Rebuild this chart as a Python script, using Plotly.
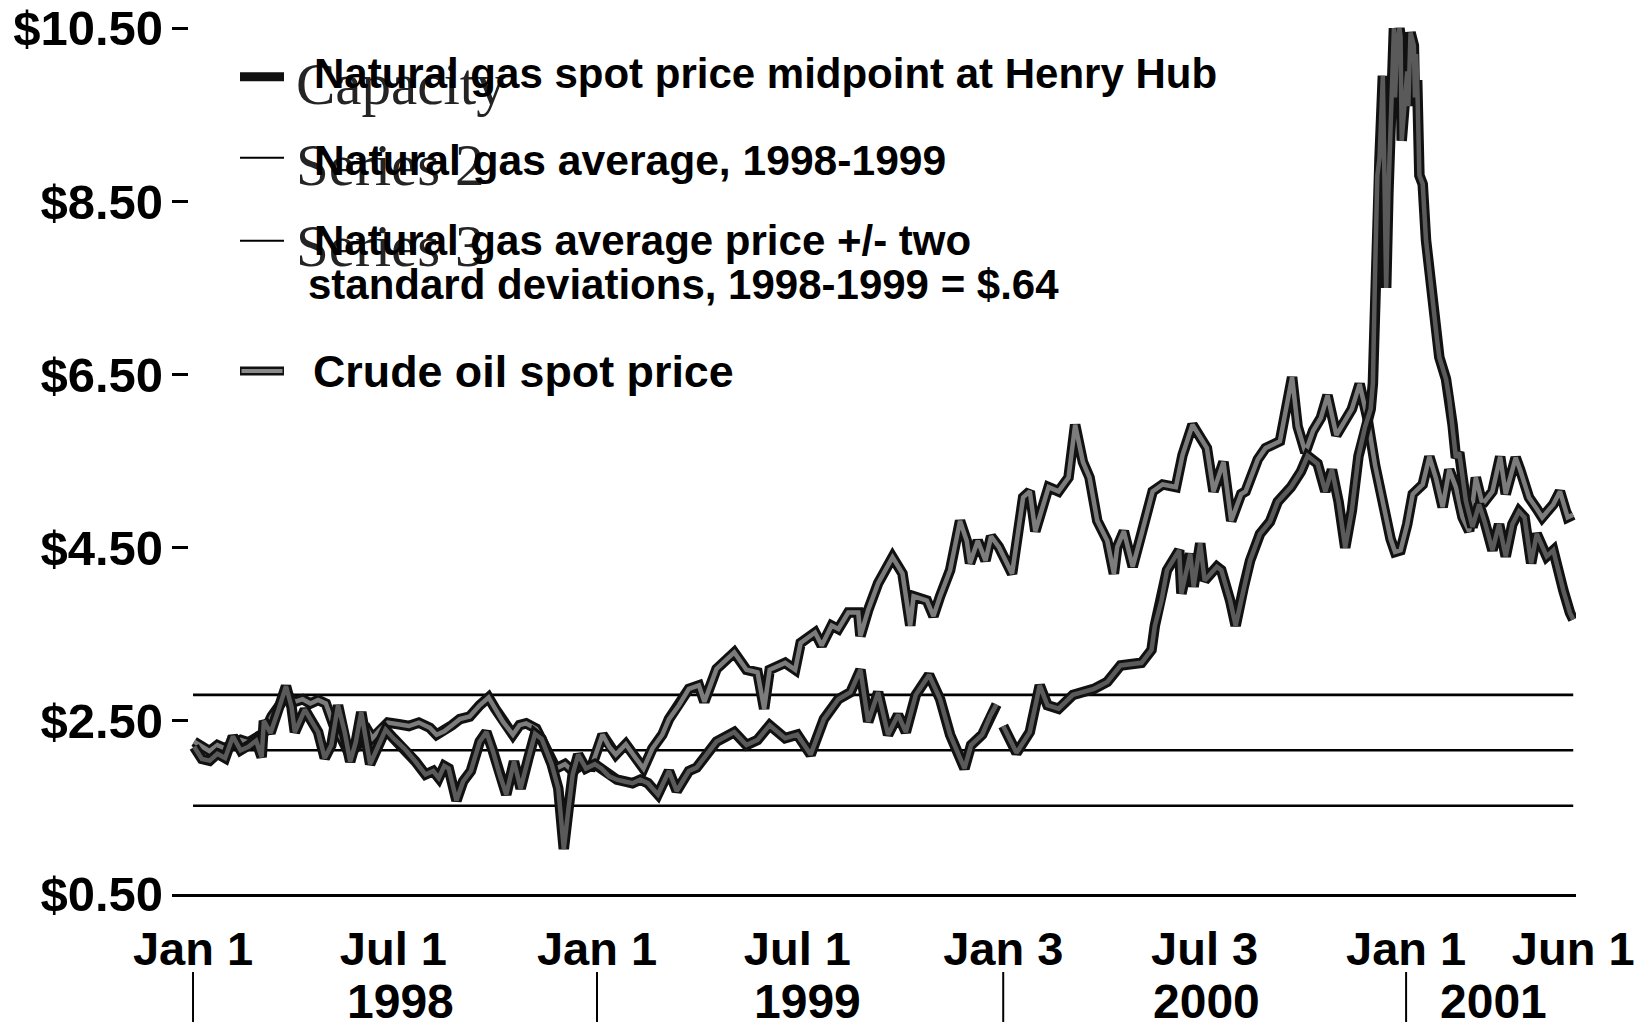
import plotly.graph_objects as go

# ---------------- data ----------------
GAS_DATES = [
    "1998-01-02", "1998-01-09", "1998-01-16", "1998-01-23", "1998-01-30", "1998-02-06", "1998-02-13",
    "1998-02-20", "1998-02-27", "1998-03-04", "1998-03-06", "1998-03-12", "1998-03-19", "1998-03-26",
    "1998-03-31", "1998-04-03", "1998-04-12", "1998-04-18", "1998-04-24", "1998-04-30", "1998-05-06",
    "1998-05-12", "1998-05-18", "1998-05-23", "1998-05-28", "1998-06-02", "1998-06-10", "1998-06-17",
    "1998-06-24", "1998-07-01", "1998-07-11", "1998-07-21", "1998-07-30", "1998-08-06", "1998-08-11",
    "1998-08-16", "1998-08-20", "1998-08-27", "1998-09-02", "1998-09-09", "1998-09-17", "1998-09-23",
    "1998-09-29", "1998-10-05", "1998-10-11", "1998-10-18", "1998-10-24", "1998-10-31", "1998-11-06",
    "1998-11-12", "1998-11-21", "1998-11-27", "1998-12-02", "1998-12-06", "1998-12-10", "1998-12-15",
    "1998-12-22", "1998-12-30", "1999-01-05", "1999-01-12", "1999-01-19", "1999-01-26", "1999-02-02",
    "1999-02-09", "1999-02-16", "1999-02-25", "1999-03-07", "1999-03-14", "1999-03-25", "1999-04-01",
    "1999-04-08", "1999-04-19", "1999-05-05", "1999-05-16", "1999-05-26", "1999-06-06", "1999-06-20",
    "1999-07-01", "1999-07-13", "1999-07-25", "1999-08-07", "1999-08-18", "1999-08-27", "1999-09-03",
    "1999-09-12", "1999-09-21", "1999-09-30", "1999-10-07", "1999-10-16", "1999-10-28", "1999-11-07",
    "1999-11-16", "1999-11-29", "1999-12-05", "1999-12-15", "1999-12-22", "1999-12-28", "1999-12-30",
    "2000-01-03", "2000-01-15", "2000-01-27", "2000-02-05", "2000-02-12", "2000-02-22", "2000-03-06",
    "2000-03-25", "2000-04-06", "2000-04-18", "2000-05-07", "2000-05-16", "2000-05-19", "2000-05-25",
    "2000-05-30", "2000-06-10", "2000-06-12", "2000-06-20", "2000-06-23", "2000-06-29", "2000-07-03",
    "2000-07-14", "2000-07-18", "2000-07-26", "2000-07-31", "2000-08-07", "2000-08-13", "2000-08-22",
    "2000-08-31", "2000-09-07", "2000-09-19", "2000-09-28", "2000-10-04", "2000-10-13", "2000-10-20",
    "2000-10-26", "2000-11-01", "2000-11-07", "2000-11-13", "2000-11-19", "2000-11-25", "2000-11-30",
    "2000-12-02", "2000-12-04", "2000-12-06", "2000-12-08", "2000-12-11", "2000-12-13", "2000-12-14",
    "2000-12-16", "2000-12-19", "2000-12-20", "2000-12-21", "2000-12-22", "2000-12-24", "2000-12-26",
    "2000-12-27", "2000-12-28", "2001-01-02", "2001-01-03", "2001-01-04", "2001-01-05", "2001-01-08",
    "2001-01-09", "2001-01-10", "2001-01-11", "2001-01-13", "2001-01-16", "2001-01-19",
    "2001-01-25", "2001-01-29", "2001-01-31", "2001-02-06", "2001-02-09", "2001-02-12", "2001-02-15",
    "2001-02-18", "2001-02-21", "2001-02-24", "2001-03-02", "2001-03-08", "2001-03-13", "2001-03-20",
    "2001-03-26", "2001-04-01", "2001-04-07", "2001-04-13", "2001-04-18", "2001-04-24", "2001-04-29",
    "2001-05-08", "2001-05-14", "2001-05-18", "2001-05-23", "2001-05-29", "2001-06-01",
]
GAS_PRICE = [
    2.20, 2.06, 2.04, 2.12, 2.07, 2.32, 2.16,
    2.20, 2.27, 2.08, 2.50, 2.36, 2.62, 2.90,
    2.66, 2.37, 2.63, 2.50, 2.37, 2.07, 2.22,
    2.68, 2.37, 2.03, 2.25, 2.60, 2.00, 2.20,
    2.40, 2.30, 2.18, 2.03, 1.88, 1.92, 1.84,
    1.98, 1.95, 1.58, 1.80, 1.92, 2.26, 2.37,
    2.15, 1.88, 1.65, 2.03, 1.72, 2.07, 2.35,
    2.29, 2.00, 1.72, 1.02, 1.46, 1.88, 2.11,
    1.95, 2.00, 1.95, 1.86, 1.82, 1.80, 1.78,
    1.82, 1.78, 1.65, 1.92, 1.69, 1.92, 1.96,
    2.07, 2.26, 2.37, 2.22, 2.28, 2.45, 2.30,
    2.34, 2.11, 2.52, 2.75, 2.83, 3.09, 2.49,
    2.83, 2.34, 2.57, 2.37, 2.80, 3.03, 2.75,
    2.34, 1.95, 2.22, 2.34, 2.55, 2.69, None,
    2.44, 2.13, 2.37, 2.91, 2.68, 2.64, 2.80,
    2.87, 2.95, 3.14, 3.17, 3.32, 3.60, 3.89,
    4.24, 4.47, 3.97, 4.43, 4.05, 4.55, 4.12,
    4.28, 4.24, 3.89, 3.60, 4.03, 4.35, 4.66,
    4.80, 5.03, 5.20, 5.38, 5.56, 5.47, 5.15,
    5.40, 5.03, 4.50, 4.93, 5.56, 5.90, 6.10,
    6.40, 7.70, 8.80, 9.00, 9.95, 8.30, 7.50,
    8.60, 9.80, 10.05, 10.50, 9.70, 10.35, 10.50,
    10.40, 9.20, 10.00, 9.60, 10.30, 10.45, 10.30,
    9.70, 10.20, 9.90, 8.80, 8.70, 8.05,
    7.30, 6.90, 6.70, 6.45, 6.22, 5.92, 5.54,
    5.60, 5.31, 5.04, 4.74, 5.00, 4.80, 4.47,
    4.77, 4.40, 4.77, 4.92, 4.85, 4.32, 4.66,
    4.40, 4.47, 4.24, 4.01, 3.75, 3.67,
]

OIL_DATES = [
    "1998-01-02", "1998-01-09", "1998-01-16", "1998-01-23", "1998-01-30", "1998-02-06", "1998-02-13",
    "1998-02-20", "1998-02-27", "1998-03-06", "1998-03-13", "1998-03-20", "1998-03-27", "1998-04-03",
    "1998-04-10", "1998-04-17", "1998-04-24", "1998-05-01", "1998-05-08", "1998-05-15", "1998-05-22",
    "1998-05-29", "1998-06-05", "1998-06-12", "1998-06-19", "1998-06-26", "1998-07-06", "1998-07-15",
    "1998-07-24", "1998-08-03", "1998-08-09", "1998-08-16", "1998-08-23", "1998-08-30", "1998-09-08",
    "1998-09-17", "1998-09-25", "1998-10-01", "1998-10-08", "1998-10-17", "1998-10-23", "1998-10-29",
    "1998-11-07", "1998-11-16", "1998-11-25", "1998-12-03", "1998-12-10", "1998-12-17", "1998-12-27",
    "1999-01-06", "1999-01-12", "1999-01-18", "1999-01-27", "1999-02-05", "1999-02-12", "1999-02-20",
    "1999-03-01", "1999-03-07", "1999-03-16", "1999-03-25", "1999-04-03", "1999-04-08", "1999-04-19",
    "1999-05-05", "1999-05-16", "1999-05-26", "1999-06-01", "1999-06-06", "1999-06-20", "1999-06-29",
    "1999-07-04", "1999-07-17", "1999-07-23", "1999-08-01", "1999-08-07", "1999-08-16", "1999-08-25",
    "1999-08-27", "1999-09-03", "1999-09-12", "1999-09-25", "1999-10-04", "1999-10-11", "1999-10-14",
    "1999-10-26", "1999-11-01", "1999-11-07", "1999-11-16", "1999-11-25", "1999-12-01", "1999-12-04",
    "1999-12-11", "1999-12-18", "1999-12-23", "1999-12-30", "2000-01-11", "2000-01-21", "2000-01-27",
    "2000-02-01", "2000-02-13", "2000-02-22", "2000-03-02", "2000-03-08", "2000-03-15", "2000-03-21",
    "2000-03-28", "2000-04-06", "2000-04-12", "2000-04-15", "2000-04-21", "2000-04-29", "2000-05-07",
    "2000-05-17", "2000-05-26", "2000-06-07", "2000-06-13", "2000-06-22", "2000-07-05", "2000-07-11",
    "2000-07-20", "2000-07-27", "2000-08-05", "2000-08-09", "2000-08-20", "2000-08-27", "2000-09-09",
    "2000-09-15", "2000-09-20", "2000-09-25", "2000-10-02", "2000-10-09", "2000-10-16", "2000-10-22",
    "2000-10-30", "2000-11-06", "2000-11-13", "2000-11-20", "2000-11-27", "2000-12-04", "2000-12-11",
    "2000-12-18", "2000-12-22", "2000-12-27", "2001-01-02", "2001-01-07", "2001-01-16", "2001-01-22",
    "2001-01-28", "2001-02-03", "2001-02-09", "2001-02-15", "2001-02-21", "2001-02-27", "2001-03-05",
    "2001-03-11", "2001-03-20", "2001-03-27", "2001-04-01", "2001-04-10", "2001-04-14", "2001-04-22",
    "2001-04-29", "2001-05-04", "2001-05-14", "2001-05-20", "2001-05-27", "2001-06-01",
]
OIL_PRICE = [
    2.26, 2.20, 2.15, 2.22, 2.18, 2.24, 2.28,
    2.25, 2.30, 2.36, 2.55, 2.68, 2.80, 2.72,
    2.75, 2.70, 2.74, 2.70, 2.45, 2.30, 2.12,
    2.20, 2.45, 2.30, 2.40, 2.48, 2.46, 2.44,
    2.48, 2.42, 2.34, 2.38, 2.45, 2.52, 2.55,
    2.68, 2.77, 2.64, 2.49, 2.34, 2.45, 2.47,
    2.41, 2.20, 1.95, 2.00, 1.92, 1.98, 1.97,
    2.34, 2.20, 2.11, 2.23, 2.07, 1.95, 2.18,
    2.34, 2.52, 2.68, 2.87, 2.91, 2.72, 3.10,
    3.29, 3.09, 3.06, 2.64, 3.09, 3.17, 3.09,
    3.40, 3.52, 3.37, 3.60, 3.56, 3.75, 3.75,
    3.48, 3.78, 4.09, 4.39, 4.20, 3.60, 3.94,
    3.89, 3.71, 3.94, 4.24, 4.81, 4.58, 4.32,
    4.58, 4.35, 4.63, 4.51, 4.20, 5.08, 5.15,
    4.69, 5.20, 5.15, 5.31, 5.92, 5.49, 5.31,
    4.81, 4.58, 4.20, 4.51, 4.69, 4.28, 4.66,
    5.15, 5.23, 5.20, 5.57, 5.92, 5.65, 5.15,
    5.49, 4.81, 5.12, 5.15, 5.52, 5.65, 5.73,
    6.10, 6.47, 5.90, 5.60, 5.85, 6.00, 6.26,
    5.80, 5.95, 6.10, 6.39, 6.00, 5.45, 5.00,
    4.60, 4.45, 4.47, 4.77, 5.12, 5.23, 5.55,
    5.30, 4.97, 5.40, 5.20, 4.85, 4.69, 5.31,
    5.00, 5.15, 5.55, 5.12, 5.54, 5.40, 5.08,
    4.95, 4.85, 5.00, 5.15, 4.85, 4.88,
]

AVG_LEVEL = [2.16, 2.16]
BAND_UPPER = [2.80, 2.80]
BAND_LOWER = [1.52, 1.52]
BAND_SPAN = ["1998-01-01", "2001-06-01"]

Y_TICKS = [0.5, 2.5, 4.5, 6.5, 8.5, 10.5]
Y_TICK_TEXT = ["$0.50", "$2.50", "$4.50", "$6.50", "$8.50", "$10.50"]
X_TICKS = ["1998-01-01", "1998-07-01", "1999-01-01", "1999-07-01",
           "2000-01-03", "2000-07-03", "2001-01-01", "2001-06-01"]
X_TICK_TEXT = ["Jan 1", "Jul 1", "Jan 1", "Jul 1", "Jan 3", "Jul 3", "Jan 1", "Jun 1"]
YEAR_LABELS = ["1998", "1999", "2000", "2001"]
YEAR_LABEL_POS = ["1998-07-07", "1999-07-10", "2000-07-05", "2001-03-21"]
YEAR_BREAKS = ["1998-01-01", "1999-01-01", "2000-01-03", "2001-01-01"]

LEGEND_TEXT = [
    "Natural gas spot price midpoint at Henry Hub",
    "Natural gas average, 1998-1999",
    "Natural gas average price +/- two",
    "standard deviations, 1998-1999 = $.64",
    "Crude oil spot price",
]
GHOST_TEXT = ["Capacity", "Series 2", "Series 3"]

# ---------------- figure ----------------
FONT = "Liberation Sans, Arial, sans-serif"
fig = go.Figure()

for lvl in (BAND_UPPER, AVG_LEVEL, BAND_LOWER):
    fig.add_trace(go.Scatter(x=BAND_SPAN, y=lvl, mode="lines",
                             line=dict(color="black", width=2.6),
                             hoverinfo="skip", showlegend=False))

# crude oil: dark outline + grey core
fig.add_trace(go.Scatter(x=OIL_DATES, y=OIL_PRICE, mode="lines",
                         line=dict(color="#111111", width=10.5), showlegend=False))
fig.add_trace(go.Scatter(x=OIL_DATES, y=OIL_PRICE, mode="lines",
                         line=dict(color="#7c7c7c", width=4.5), showlegend=False,
                         name="Crude oil spot price"))
# natural gas: dark outline + grey core
fig.add_trace(go.Scatter(x=GAS_DATES, y=GAS_PRICE, mode="lines",
                         line=dict(color="#111111", width=10.5), showlegend=False))
fig.add_trace(go.Scatter(x=GAS_DATES, y=GAS_PRICE, mode="lines",
                         line=dict(color="#5a5a5a", width=4.5), showlegend=False,
                         name="Natural gas spot price midpoint at Henry Hub"))

# The page body has an 8px margin; work in page pixels and convert.
OFF = 8
W, H = 1651 - 2 * OFF, 1035 - 2 * OFF
L, R, T, B = 172 - OFF, 1576 - OFF, 23.2 - OFF, 894.0 - OFF
PW, PH = R - L, B - T


def px(x_page):
    return (x_page - OFF - L) / PW


def py(y_page):
    return (B - (y_page - OFF)) / PH


shapes = []
# legend samples
shapes.append(dict(type="line", xref="paper", yref="paper", x0=px(240), x1=px(284),
                   y0=py(77), y1=py(77), line=dict(color="#111111", width=9)))
shapes.append(dict(type="line", xref="paper", yref="paper", x0=px(240), x1=px(284),
                   y0=py(158), y1=py(158), line=dict(color="black", width=2)))
shapes.append(dict(type="line", xref="paper", yref="paper", x0=px(240), x1=px(284),
                   y0=py(241), y1=py(241), line=dict(color="black", width=2)))
shapes.append(dict(type="line", xref="paper", yref="paper", x0=px(240), x1=px(284),
                   y0=py(371), y1=py(371), line=dict(color="#111111", width=9)))
shapes.append(dict(type="line", xref="paper", yref="paper", x0=px(241.5), x1=px(282.5),
                   y0=py(371), y1=py(371), line=dict(color="#8a8a8a", width=4)))
# year dividers under the axis
for d in YEAR_BREAKS:
    shapes.append(dict(type="line", xref="x", yref="paper", x0=d, x1=d,
                       y0=py(972), y1=py(1022), line=dict(color="black", width=2)))

annotations = []
for name, pos in zip(YEAR_LABELS, YEAR_LABEL_POS):
    annotations.append(dict(x=pos, y=py(1001), xref="x", yref="paper", text=name,
                            showarrow=False, xanchor="center", yanchor="middle",
                            font=dict(family=FONT, size=48, color="black", weight="bold")))

ghost_y = [84, 165, 246]
for txt, yy in zip(GHOST_TEXT, ghost_y):
    annotations.append(dict(x=px(294), y=py(yy), xref="paper", yref="paper", text=txt,
                            showarrow=False, xanchor="left", yanchor="middle",
                            font=dict(family="Liberation Serif, Times New Roman, serif",
                                      size=59, color="#242424")))

leg_pos = [(312, 74, 42), (312, 160, 42.6), (312, 241, 42), (306, 285, 42), (311, 371, 44.8)]
for txt, (xx, yy, fs) in zip(LEGEND_TEXT, leg_pos):
    annotations.append(dict(x=px(xx), y=py(yy), xref="paper", yref="paper", text=txt,
                            showarrow=False, xanchor="left", yanchor="middle",
                            font=dict(family=FONT, size=fs, color="black", weight="bold")))

fig.update_layout(
    width=W, height=H,
    margin=dict(l=L, r=W - R, t=T, b=H - B, pad=0, autoexpand=False),
    paper_bgcolor="white", plot_bgcolor="white",
    showlegend=False,
    shapes=shapes, annotations=annotations,
    xaxis=dict(type="date", range=["1997-12-13", "2001-06-03 12:00"],
               showgrid=False, zeroline=False, showline=True, linecolor="black", linewidth=3,
               ticks="", tickvals=X_TICKS, ticktext=X_TICK_TEXT, tickangle=0,
               ticklabeloverflow="allow", ticklabelstandoff=12,
               tickfont=dict(family=FONT, size=47, color="black", weight="bold")),
    yaxis=dict(range=[0.5, 10.56], showgrid=False, zeroline=False, showline=False,
               ticks="inside", ticklen=16, tickwidth=2.5, tickcolor="black",
               tickvals=Y_TICKS, ticktext=Y_TICK_TEXT, ticklabelstandoff=8,
               ticklabeloverflow="allow",
               tickfont=dict(family=FONT, size=49, color="black", weight="bold")),
)

fig.write_html("out.html")
